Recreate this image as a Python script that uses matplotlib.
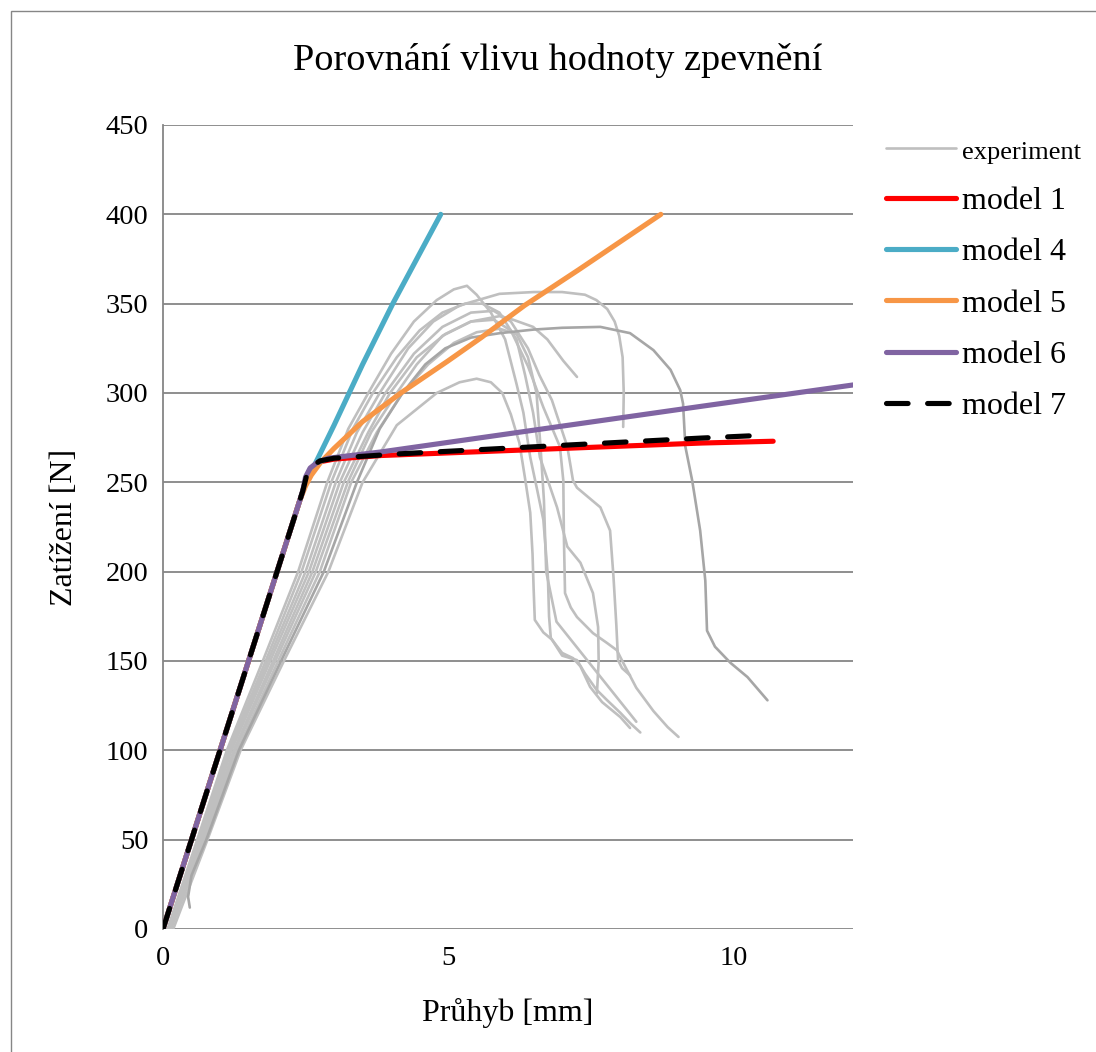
import matplotlib
matplotlib.use("Agg")
import matplotlib.pyplot as plt
from matplotlib.patches import Rectangle

plt.rcParams['font.family'] = ['Liberation Serif', 'DejaVu Serif']

# ---- experimental load-deflection curves (deflection mm, load N) ----
exp1_x = [0.08, 0.6, 1.12, 1.75, 2.37, 2.88, 3.25, 3.6, 4.0, 4.4, 4.8, 5.1, 5.33, 5.5, 5.75, 6.0, 6.2,
          6.32, 6.44, 6.56, 6.67, 6.75, 6.77, 6.8, 7.0, 7.26, 7.4, 7.6, 7.79, 8.02, 8.2, 8.37]
exp1_y = [0, 50, 100, 150, 200, 250, 280, 300, 322, 340, 352, 358, 360, 355, 345, 330, 305,
          289, 264, 246, 229, 197, 175, 163, 153, 150.5, 143, 134, 128, 121, 115, 110]

exp2_x = [0.18, 0.78, 1.36, 2.12, 2.9, 3.5, 4.1, 4.8, 5.2, 5.5, 5.75, 5.95, 6.1, 6.25, 6.35,
          6.44, 6.48, 6.5, 6.52, 6.67, 6.82, 7.0, 7.19, 7.32, 7.49, 7.7, 8.02, 8.19]
exp2_y = [0, 50, 100, 150, 200, 250, 282, 300, 306, 308, 306, 300, 288, 272, 252,
          233, 210, 190, 173, 166, 162, 154.5, 151.6, 147, 135.5, 127, 118.6, 112.5]

exp3_x = [0.1, 0.65, 1.18, 1.84, 2.5, 3.03, 3.4, 3.8, 4.3, 4.74, 5.2, 5.9, 6.5, 7.0, 7.4, 7.6,
          7.79, 7.92, 8.0, 8.06, 8.08, 8.07]
exp3_y = [0, 50, 100, 150, 200, 250, 278, 300, 325, 340, 349, 355.5, 356.5, 356.5, 355, 352,
          347, 340, 332, 320, 300, 281]

exp4_x = [0.47, 0.44, 0.5, 0.76, 1.33, 2.07, 2.82, 3.4, 3.8, 4.2, 4.6, 4.95, 5.4, 5.91, 6.5, 7.0,
          7.67, 8.19, 8.6, 8.9, 9.07, 9.12, 9.16, 9.28, 9.42, 9.51, 9.54, 9.68, 9.95, 10.25, 10.6]
exp4_y = [12, 18, 30, 50, 100, 150, 200, 250, 280, 300, 316, 325, 331, 333.5, 335.5, 336.5,
          337, 333.5, 324, 313, 301.6, 294, 270, 251, 223, 195, 167, 158, 149, 141, 128]

exp5_x = [0.12, 0.72, 1.26, 1.97, 2.68, 3.24, 3.65, 4.1, 4.45, 4.9, 5.4, 5.9, 6.14, 6.49, 6.74,
          7.02, 7.26]
exp5_y = [0, 50, 100, 150, 200, 250, 278, 300, 316, 332, 340, 343, 341, 337, 330, 318, 309]

exp6_x = [0.12, 0.67, 1.2, 1.88, 2.56, 3.1, 3.5, 3.9, 4.4, 4.9, 5.4, 5.8, 6.1, 6.4, 6.6, 6.82,
          7.09, 7.19, 7.26, 7.67, 7.84, 7.9, 7.95, 7.98, 8.05, 8.19]
exp6_y = [0, 50, 100, 150, 200, 250, 278, 300, 322, 337, 345, 346, 340, 325, 310, 296,
          270, 251, 247, 236, 223, 197, 170, 150.5, 146, 142]

exp7_x = [0.12, 0.7, 1.24, 1.93, 2.62, 3.17, 3.6, 3.98, 4.45, 4.95, 5.4, 5.8, 6.1, 6.4, 6.67,
          6.96, 7.02, 7.03, 7.05, 7.15, 7.26, 7.54, 7.79, 7.96, 8.07, 8.3, 8.6, 8.85, 9.04]
exp7_y = [0, 50, 100, 150, 200, 250, 278, 300, 320, 333, 340, 341, 335, 315, 292,
          270, 251, 220, 188, 180, 174.6, 165.6, 160, 156, 149, 135, 122, 113, 107.5]

exp8_x = [0.1, 0.62, 1.15, 1.8, 2.43, 2.95, 3.33, 3.68, 4.1, 4.5, 4.9, 5.3, 5.6, 5.9, 6.2, 6.35,
          6.49, 6.61, 6.91, 7.09, 7.32, 7.54, 7.63, 7.64, 7.61]
exp8_y = [0, 50, 100, 150, 200, 250, 280, 300, 320, 335, 345, 350, 350, 345, 330, 310,
          289, 264, 236, 214, 205, 188, 169, 150, 132]

exp9_x = [0.14, 0.74, 1.3, 2.02, 2.75, 3.3, 3.75, 4.2, 4.65, 5.1, 5.5, 5.9, 6.2, 6.4, 6.55, 6.62,
          6.68, 6.72, 6.9, 7.2, 7.5, 7.8, 8.1, 8.3]
exp9_y = [0, 50, 100, 150, 200, 250, 278, 300, 316, 328, 334, 336, 333, 320, 300, 270,
          240, 200, 172, 160, 148, 136, 124, 116]

exp_x = [exp1_x, exp2_x, exp3_x, exp5_x, exp6_x, exp7_x, exp8_x, exp9_x, exp4_x]
exp_y = [exp1_y, exp2_y, exp3_y, exp5_y, exp6_y, exp7_y, exp8_y, exp9_y, exp4_y]
exp_colors = ['#BFBFBF'] * 8 + ['#A6A6A6']

# ---- numerical models ----
m1_x = [0, 2.45, 2.52, 2.6, 2.75, 3.0, 3.82, 9.45, 10.7]
m1_y = [0, 245, 253, 258, 261.5, 263, 265, 272, 273]

m4_x = [0, 2.45, 2.55, 2.64, 3.0, 3.5, 4.03, 4.5, 4.87]
m4_y = [0, 245, 254, 258.5, 282, 316, 350, 378, 400]

m5_x = [0, 2.4, 2.5, 2.6, 2.76, 3.0, 3.5, 4.17, 5.0, 5.58, 6.34, 7.29, 8.73]
m5_y = [0, 240, 248, 254, 261, 269, 284, 300, 318, 331, 349, 369, 400]

m6_x = [0, 2.45, 2.5, 2.58, 2.7, 2.9, 3.82, 9.45, 12.1]
m6_y = [0, 245, 253, 258, 261, 263.5, 267, 292.6, 304.5]

m7_x = [0, 2.45, 2.52, 2.62, 2.75, 3.0, 4.17, 9.45, 10.28]
m7_y = [0, 245, 254, 259, 262, 263.5, 266, 274.8, 276]

title = "Porovnání vlivu hodnoty zpevnění"
xlabel = "Průhyb [mm]"
ylabel = "Zatížení [N]"
y_ticks = [0, 50, 100, 150, 200, 250, 300, 350, 400, 450]
x_ticks = [0, 5, 10]

W, H = 1096, 1052
fig = plt.figure(figsize=(W / 100, H / 100), dpi=100)
ax = fig.add_axes([163 / W, 1 - 929 / H, (853 - 163) / W, (929 - 125) / H])

grid_c = '#868686'
for i, (xs, ys) in enumerate(zip(exp_x, exp_y)):
    ax.plot(xs, ys, color=exp_colors[i], lw=1.9, solid_joinstyle='round',
            solid_capstyle='round', zorder=3, label='experiment' if i == 0 else None)

lw = 3.7
ax.plot(m1_x, m1_y, color='#FF0000', lw=lw, solid_capstyle='round', zorder=4, label='model 1')
ax.plot(m4_x, m4_y, color='#4BACC6', lw=lw, solid_capstyle='round', zorder=4, label='model 4')
ax.plot(m5_x, m5_y, color='#F79646', lw=lw, solid_capstyle='round', zorder=4, label='model 5')
ax.plot(m6_x, m6_y, color='#8064A2', lw=lw, solid_capstyle='round', zorder=5, label='model 6')
ax.plot(m7_x, m7_y, color='black', lw=lw, dashes=(4.2, 3.8), dash_capstyle='round',
        zorder=6, label='model 7')

ax.set_xlim(0, 12.1)
ax.set_ylim(0, 450)
ax.set_yticks(y_ticks)
ax.set_xticks(x_ticks)
ax.yaxis.grid(True, color=grid_c, lw=1.3)
ax.set_axisbelow(True)
for s in ['top', 'right', 'bottom']:
    ax.spines[s].set_visible(False)
ax.spines['left'].set_color(grid_c)
ax.spines['left'].set_linewidth(1.3)
ax.tick_params(axis='both', length=0, labelsize=20.5)
ax.tick_params(axis='y', pad=10.5)
ax.tick_params(axis='x', pad=12)

fig.text(558 / W, 1 - 60 / H, title, fontsize=27.5, ha='center', va='center')
fig.text(508 / W, 1 - 1013 / H, xlabel, fontsize=23, ha='center', va='center')
fig.text(65 / W, 1 - 527 / H, ylabel, fontsize=23, ha='center', va='center', rotation=90)

leg = fig.legend(loc='upper left', bbox_to_anchor=(886 / W, 1 - 137 / H), frameon=False,
                 fontsize=23, handlelength=2.2, handletextpad=0.19, labelspacing=0.69,
                 borderpad=0, borderaxespad=0)
leg.get_texts()[0].set_fontsize(19)

# chart area border
fig.patches.append(Rectangle((11 / W, -0.1), 1.2, 1 - 11 / H + 0.1, transform=fig.transFigure,
                             fill=False, edgecolor='#868686', lw=1.0))

fig.savefig('out.png', dpi=100, facecolor='white')
